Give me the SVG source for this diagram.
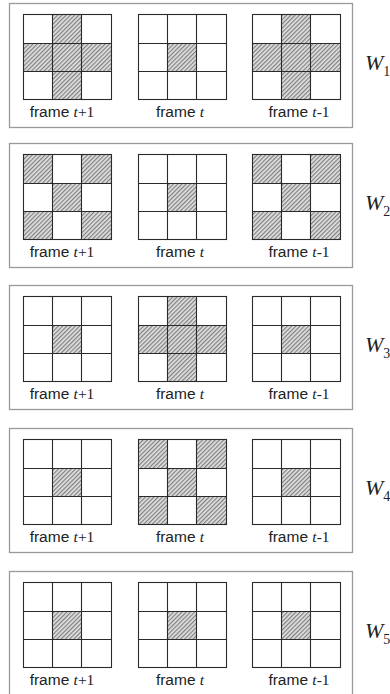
<svg xmlns="http://www.w3.org/2000/svg" xmlns:xlink="http://www.w3.org/1999/xlink" width="390" height="694" viewBox="0 0 390 694">
<style>
.box{fill:none;stroke:#9a9a9a;stroke-width:1.3}
.gl{fill:none;stroke:#2a2a2a;stroke-width:1.1}
.hatch{fill:url(#hp);stroke:none}
.lbl{font-family:"Liberation Sans",Arial,sans-serif;font-size:15.5px;fill:#222}
.it{font-family:"Liberation Serif","Times New Roman",serif;font-style:italic}
.sf{font-family:"Liberation Serif","Times New Roman",serif}
.w{font-family:"Liberation Serif","Times New Roman",serif;font-style:italic;font-size:22px;fill:#222}
.sub{font-style:normal;font-size:14px}
</style>
<defs>
<pattern id="hp" patternUnits="userSpaceOnUse" width="3" height="3" patternTransform="rotate(45)">
<rect width="3" height="3" fill="#e2e2e2"/>
<line x1="0.7" y1="0" x2="0.7" y2="3" stroke="#5a5a5a" stroke-width="0.9"/>
</pattern>
<g id="grid">
<rect class="gl" x="0" y="0" width="88" height="85"/>
<path class="gl" d="M29 0V85M58 0V85M0 29H88M0 57H88"/>
</g>
<rect id="c10" class="hatch" x="29" y="0" width="29" height="29"/>
<rect id="c01" class="hatch" x="0" y="29" width="29" height="28"/>
<rect id="c11" class="hatch" x="29" y="29" width="29" height="28"/>
<rect id="c21" class="hatch" x="58" y="29" width="30" height="28"/>
<rect id="c12" class="hatch" x="29" y="57" width="29" height="28"/>
<rect id="c00" class="hatch" x="0" y="0" width="29" height="29"/>
<rect id="c20" class="hatch" x="58" y="0" width="30" height="29"/>
<rect id="c02" class="hatch" x="0" y="57" width="29" height="28"/>
<rect id="c22" class="hatch" x="58" y="57" width="30" height="28"/>
<g id="cross"><use xlink:href="#c10"/><use xlink:href="#c01"/><use xlink:href="#c11"/><use xlink:href="#c21"/><use xlink:href="#c12"/><use xlink:href="#grid"/></g>
<g id="center"><use xlink:href="#c11"/><use xlink:href="#grid"/></g>
<g id="corners"><use xlink:href="#c00"/><use xlink:href="#c20"/><use xlink:href="#c11"/><use xlink:href="#c02"/><use xlink:href="#c22"/><use xlink:href="#grid"/></g>
<g id="labels">
<text class="lbl" x="62" y="114" text-anchor="middle">frame <tspan class="it">t</tspan><tspan class="sf">+1</tspan></text>
<text class="lbl" x="180" y="114" text-anchor="middle">frame <tspan class="it">t</tspan></text>
<text class="lbl" x="299" y="114" text-anchor="middle">frame <tspan class="it">t</tspan><tspan class="sf">-1</tspan></text>
</g>
</defs>
<g id="connectors"></g>

<g id="panel-W1" transform="translate(0,3)">
<rect class="box" x="9.5" y="0.5" width="343" height="124"/>
<use xlink:href="#cross" transform="translate(23.5,11.5)"/>
<use xlink:href="#center" transform="translate(138.5,11.5)"/>
<use xlink:href="#cross" transform="translate(252.5,11.5)"/>
<use xlink:href="#labels"/>
<text class="w" x="365" y="67">W<tspan class="sub" dy="6">1</tspan></text>
</g>

<g id="panel-W2" transform="translate(0,143)">
<rect class="box" x="9.5" y="0.5" width="343" height="124"/>
<use xlink:href="#corners" transform="translate(23.5,11.5)"/>
<use xlink:href="#center" transform="translate(138.5,11.5)"/>
<use xlink:href="#corners" transform="translate(252.5,11.5)"/>
<use xlink:href="#labels"/>
<text class="w" x="365" y="67">W<tspan class="sub" dy="6">2</tspan></text>
</g>

<g id="panel-W3" transform="translate(0,285)">
<rect class="box" x="9.5" y="0.5" width="343" height="124"/>
<use xlink:href="#center" transform="translate(23.5,11.5)"/>
<use xlink:href="#cross" transform="translate(138.5,11.5)"/>
<use xlink:href="#center" transform="translate(252.5,11.5)"/>
<use xlink:href="#labels"/>
<text class="w" x="365" y="67">W<tspan class="sub" dy="6">3</tspan></text>
</g>

<g id="panel-W4" transform="translate(0,428)">
<rect class="box" x="9.5" y="0.5" width="343" height="124"/>
<use xlink:href="#center" transform="translate(23.5,11.5)"/>
<use xlink:href="#corners" transform="translate(138.5,11.5)"/>
<use xlink:href="#center" transform="translate(252.5,11.5)"/>
<use xlink:href="#labels"/>
<text class="w" x="365" y="67">W<tspan class="sub" dy="6">4</tspan></text>
</g>

<g id="panel-W5" transform="translate(0,571)">
<rect class="box" x="9.5" y="0.5" width="343" height="124"/>
<use xlink:href="#center" transform="translate(23.5,11.5)"/>
<use xlink:href="#center" transform="translate(138.5,11.5)"/>
<use xlink:href="#center" transform="translate(252.5,11.5)"/>
<use xlink:href="#labels"/>
<text class="w" x="365" y="67">W<tspan class="sub" dy="6">5</tspan></text>
</g>
</svg>
